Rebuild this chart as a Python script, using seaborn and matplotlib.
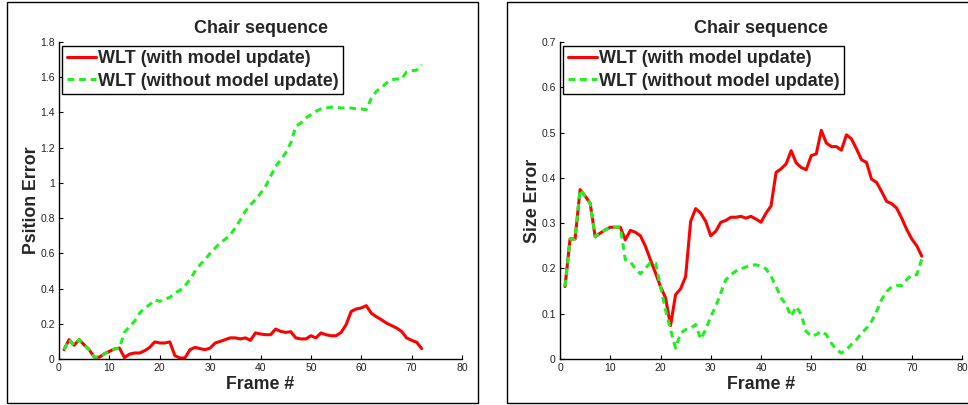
import matplotlib
matplotlib.use("Agg")
import matplotlib.pyplot as plt
import seaborn as sns
import pandas as pd
from matplotlib.patches import Rectangle
from matplotlib.ticker import FuncFormatter, MultipleLocator

frames = list(range(1, 73))

pos_with = [0.053, 0.11, 0.078, 0.11, 0.08, 0.053, 0.01, 0.01, 0.03, 0.043,
            0.057, 0.062, 0.008, 0.028, 0.034, 0.034, 0.047, 0.066, 0.097, 0.091,
            0.091, 0.097, 0.019, 0.006, 0.006, 0.053, 0.066, 0.059, 0.053, 0.062,
            0.091, 0.1, 0.11, 0.12, 0.12, 0.114, 0.12, 0.106, 0.148, 0.142,
            0.138, 0.138, 0.17, 0.157, 0.151, 0.155, 0.12, 0.114, 0.114, 0.132,
            0.12, 0.148, 0.138, 0.132, 0.132, 0.151, 0.195, 0.27, 0.284, 0.29,
            0.303, 0.26, 0.24, 0.223, 0.204, 0.19, 0.176, 0.157, 0.12, 0.106,
            0.095, 0.059]

pos_without = [0.053, 0.11, 0.078, 0.11, 0.08, 0.053, 0.01, 0.01, 0.03, 0.043,
               0.057, 0.062, 0.151, 0.185, 0.214, 0.26, 0.29, 0.308, 0.336, 0.327,
               0.34, 0.35, 0.375, 0.39, 0.416, 0.45, 0.498, 0.535, 0.564, 0.60,
               0.63, 0.66, 0.68, 0.705, 0.745, 0.79, 0.84, 0.875, 0.905, 0.94,
               0.98, 1.037, 1.094, 1.13, 1.17, 1.226, 1.32, 1.34, 1.368, 1.387,
               1.406, 1.42, 1.425, 1.43, 1.43, 1.425, 1.425, 1.425, 1.42, 1.42,
               1.415, 1.48, 1.52, 1.54, 1.567, 1.585, 1.59, 1.59, 1.63, 1.637,
               1.64, 1.67]

size_with = [0.16, 0.265, 0.265, 0.374, 0.36, 0.344, 0.27, 0.278, 0.285, 0.291,
             0.291, 0.291, 0.263, 0.284, 0.28, 0.272, 0.249, 0.219, 0.19, 0.16,
             0.135, 0.074, 0.142, 0.155, 0.182, 0.304, 0.332, 0.322, 0.304, 0.272,
             0.282, 0.302, 0.306, 0.313, 0.313, 0.315, 0.311, 0.315, 0.309, 0.302,
             0.322, 0.338, 0.412, 0.42, 0.431, 0.46, 0.433, 0.423, 0.418, 0.449,
             0.453, 0.505, 0.477, 0.469, 0.469, 0.461, 0.495, 0.486, 0.464, 0.44,
             0.434, 0.397, 0.39, 0.37, 0.348, 0.343, 0.333, 0.311, 0.286, 0.265,
             0.25, 0.227]

size_without = [0.16, 0.265, 0.265, 0.374, 0.36, 0.344, 0.27, 0.278, 0.285, 0.291,
                0.291, 0.291, 0.219, 0.215, 0.199, 0.188, 0.2, 0.213, 0.212, 0.16,
                0.109, 0.065, 0.024, 0.057, 0.065, 0.068, 0.076, 0.044, 0.065, 0.094,
                0.116, 0.146, 0.175, 0.186, 0.194, 0.199, 0.203, 0.207, 0.208, 0.205,
                0.199, 0.183, 0.16, 0.135, 0.12, 0.094, 0.116, 0.098, 0.061, 0.05,
                0.054, 0.061, 0.054, 0.035, 0.021, 0.013, 0.021, 0.032, 0.043, 0.057,
                0.068, 0.083, 0.105, 0.131, 0.149, 0.159, 0.162, 0.162, 0.175, 0.186,
                0.186, 0.221]

title = "Chair sequence"
xlabel = "Frame #"
ylabels = ["Psition Error", "Size Error"]
series_names = ["WLT (with model update)", "WLT (without model update)"]

sns.set_style("ticks")
plt.rcParams['font.family'] = ['Liberation Sans', 'DejaVu Sans']

fig = plt.figure(figsize=(9.68, 4.05), dpi=100)
fig.patch.set_facecolor("white")

# panel frames
fig.patches.append(Rectangle((7 / 968, 1 - 403 / 405), (478 - 7) / 968, (403 - 2) / 405,
                             transform=fig.transFigure, fill=False, edgecolor="black",
                             linewidth=1.0, zorder=0))
fig.patches.append(Rectangle((507 / 968, 1 - 403 / 405), (975 - 507) / 968, (403 - 2) / 405,
                             transform=fig.transFigure, fill=False, edgecolor="black",
                             linewidth=1.0, zorder=0))

ax1 = fig.add_axes([59 / 968, 1 - 359 / 405, (462 - 59) / 968, (359 - 42) / 405])
ax2 = fig.add_axes([560 / 968, 1 - 359 / 405, (962 - 560) / 968, (359 - 42) / 405])

panels = [
    (ax1, pos_with, pos_without, 1.8, 0.2, ylabels[0]),
    (ax2, size_with, size_without, 0.7, 0.1, ylabels[1]),
]

fmt = FuncFormatter(lambda v, p: ("%g" % round(v, 3)))

for ax, ywith, ywithout, ymax, ystep, ylab in panels:
    df = pd.DataFrame({"frame": frames, "with": ywith, "without": ywithout})
    sns.lineplot(data=df, x="frame", y="with", ax=ax, color="#ff0000",
                 linewidth=2.2, label=series_names[0])
    sns.lineplot(data=df, x="frame", y="without", ax=ax, color="#22ee22",
                 linewidth=2.2, linestyle=(0, (2.2, 1.6)), label=series_names[1])
    ax.set_xlim(0, 80)
    ax.set_ylim(0, ymax)
    ax.xaxis.set_major_locator(MultipleLocator(10))
    ax.yaxis.set_major_locator(MultipleLocator(ystep))
    ax.xaxis.set_major_formatter(fmt)
    ax.yaxis.set_major_formatter(fmt)
    ax.tick_params(direction="in", length=3, width=0.8, labelsize=7.5,
                   colors="black", labelcolor="#222222", pad=3)
    for s in ["top", "right"]:
        ax.spines[s].set_visible(False)
    for s in ["left", "bottom"]:
        ax.spines[s].set_color("black")
        ax.spines[s].set_linewidth(1.0)
    ax.set_title(title, fontsize=13, fontweight="bold", pad=6.4)
    ax.set_xlabel(xlabel, fontsize=12.8, fontweight="bold", labelpad=2)
    ax.set_ylabel(ylab, fontsize=12.8, fontweight="bold", labelpad=0)
    leg = ax.legend(loc="upper left", bbox_to_anchor=(0.008, 0.988), borderaxespad=0,
                    prop={"weight": "bold", "size": 13},
                    frameon=True, fancybox=False, handlelength=1.6,
                    handletextpad=0.15, borderpad=0.25, labelspacing=0.3)
    leg.get_frame().set_edgecolor("black")
    leg.get_frame().set_linewidth(1.0)
    leg.get_frame().set_alpha(1)

fig.savefig("out.png", dpi=100, facecolor="white")
